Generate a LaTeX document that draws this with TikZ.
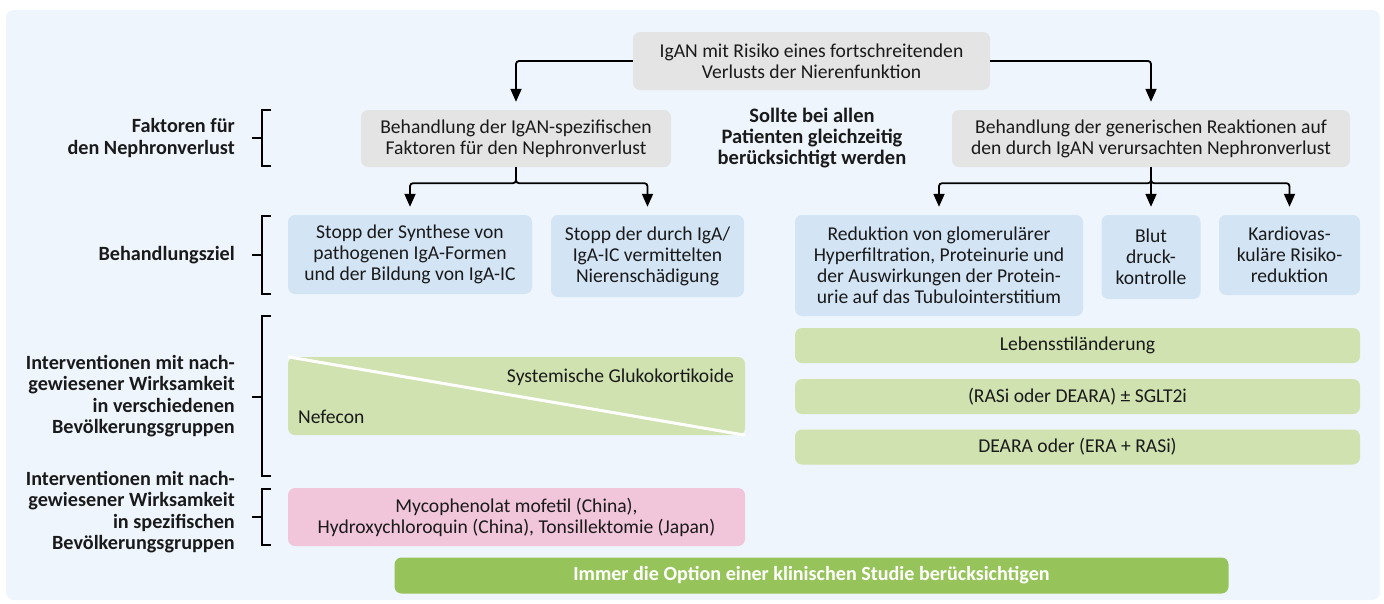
\documentclass[tikz,border=0pt]{standalone}
\usepackage{fontspec}
\setmainfont{Carlito}
\usepackage{tikz}
\usetikzlibrary{arrows.meta, positioning}
\definecolor{panel}{HTML}{EEF5FC}
\definecolor{ink}{HTML}{1A1A1A}
\definecolor{boxgray}{HTML}{E4E4E4}
\definecolor{boxblue}{HTML}{D3E4F5}
\definecolor{boxgreen}{HTML}{D0E2B0}
\definecolor{boxpink}{HTML}{F1C6DA}
\definecolor{trialgreen}{HTML}{97C45A}

\begin{document}
\begin{tikzpicture}[x=1pt, y=-1pt,
    box/.style={rounded corners=7pt, align=center, inner sep=0pt, text=ink,
      font=\fontsize{19.6}{21}\selectfont},
    graybox/.style={box, fill=boxgray},
    goalbox/.style={box, fill=boxblue},
    drugbox/.style={box, fill=boxgreen},
    rowlabel/.style={anchor=east, align=right, text=ink, inner sep=0pt,
      font=\bfseries\fontsize{20.2}{21.5}\selectfont},
    flow/.style={line width=1.8pt, rounded corners=3pt, shorten >=8pt,
      -{Triangle[width=11pt,length=13pt]}},
    bracket/.style={line width=1.5pt}]
  \useasboundingbox (0,0) rectangle (1384,603);
  \fill[panel, rounded corners=8pt] (6,10) rectangle (1380,600);

  % starting point and the two treatment branches
  \node[graybox, minimum width=357pt, minimum height=58pt] (root) at (811.5,61)
    {IgAN mit Risiko eines fortschreitenden\\Verlusts der Nierenfunktion};
  \node[graybox, minimum width=310pt, minimum height=57pt] (spec) at (516,138.5)
    {Behandlung der IgAN-spezifischen\\Faktoren für den Nephronverlust};
  \node[graybox, minimum width=398pt, minimum height=57pt] (gen) at (1151,138.5)
    {Behandlung der generischen Reaktionen auf\\den durch IgAN verursachten Nephronverlust};
  \node[text=ink, align=center, font=\bfseries\fontsize{20.5}{21}\selectfont] (both) at (812,138)
    {Sollte bei allen\\Patienten gleichzeitig\\berücksichtigt werden};

  % treatment goals
  \node[goalbox, minimum width=244pt, minimum height=79pt] (synth) at (410,254.5)
    {Stopp der Synthese von\\pathogenen IgA-Formen\\und der Bildung von IgA-IC};
  \node[goalbox, minimum width=193pt, minimum height=82pt] (damage) at (647.5,256)
    {Stopp der durch IgA/\\IgA-IC vermittelten\\Nierenschädigung};
  \node[goalbox, minimum width=288pt, minimum height=101pt] (hyper) at (939,265.5)
    {Reduktion von glomerulärer\\Hyperfiltration, Proteinurie und\\der Auswirkungen der Protein-\\urie auf das Tubulointerstitium};
  \node[goalbox, minimum width=99pt, minimum height=84pt] (bp) at (1151,257)
    {Blut\\druck-\\kontrolle};
  \node[goalbox, minimum width=141pt, minimum height=80pt] (cardio) at (1289.5,255)
    {Kardiovas-\\kuläre Risiko-\\reduktion};

  % generic interventions
  \node[drugbox, minimum width=565pt, minimum height=35pt] (life) at (1077.5,345.5)
    {Lebensstiländerung};
  \node[drugbox, minimum width=565pt, minimum height=35pt] (rasi) at (1077.5,396.5)
    {(RASi oder DEARA) ± SGLT2i};
  \node[drugbox, minimum width=565pt, minimum height=35pt] (deara) at (1077.5,447)
    {DEARA oder (ERA + RASi)};

  % specific interventions
  \node[drugbox, minimum width=457pt, minimum height=78pt] (steroid) at (516.5,396) {};
  \draw[white, line width=3pt] (steroid.north west) -- (steroid.south east);
  \node[box, anchor=east] (gluco) at (734,377) {Systemische Glukokortikoide};
  \node[box, anchor=west] (nefecon) at (298,417) {Nefecon};
  \node[box, fill=boxpink, minimum width=457pt, minimum height=58pt] (region) at (516.5,517)
    {Mycophenolat mofetil (China),\\Hydroxychloroquin (China), Tonsillektomie (Japan)};
  \node[box, fill=trialgreen, text=white, font=\bfseries\fontsize{20.1}{21}\selectfont,
    minimum width=834pt, minimum height=36pt] (trial) at (811.5,575.5)
    {Immer die Option einer klinischen Studie berücksichtigen};

  % arrows
  \draw[flow] (root.west) -| (spec.north);
  \draw[flow] (root.east) -| (gen.north);
  \draw[flow] (spec.south) -- ++(0,16) -| (synth.north);
  \draw[flow] (spec.south) -- ++(0,16) -| (damage.north);
  \draw[flow] (gen.south) -- ++(0,16) -| (hyper.north);
  \draw[flow] (gen.south) -- (bp.north);
  \draw[flow] (gen.south) -- ++(0,16) -| (cardio.north);

  % row labels with brackets
  \node[rowlabel] (lblfactor) at (235,138) {Faktoren für\\den Nephronverlust};
  \draw[bracket] (271,110) -| (262,166) -- (271,166) (262,138) -- (252,138);
  \node[rowlabel] (lblgoal) at (235,255) {Behandlungsziel};
  \draw[bracket] (271,216) -| (262,294) -- (271,294) (262,255) -- (252,255);
  \node[rowlabel] (lblall) at (235,396) {Interventionen mit nach-\\gewiesener Wirksamkeit\\in verschiedenen\\Bevölkerungsgruppen};
  \draw[bracket] (271,316) -| (262,476) -- (271,476) (262,397) -- (252,397);
  \node[rowlabel] (lblspec) at (235,512) {Interventionen mit nach-\\gewiesener Wirksamkeit\\in spezifischen\\Bevölkerungsgruppen};
  \draw[bracket] (271,489) -| (262,545) -- (271,545) (262,517) -- (252,517);
\end{tikzpicture}
\end{document}
